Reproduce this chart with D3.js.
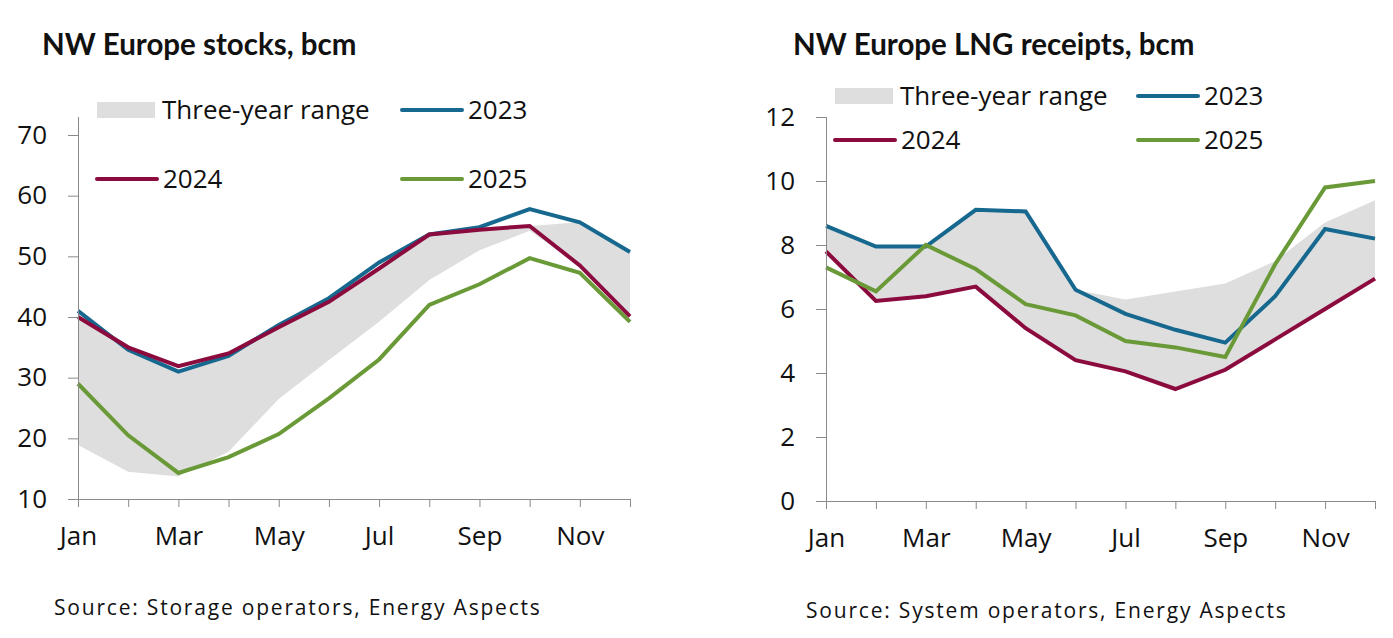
<!DOCTYPE html>
<html><head><meta charset="utf-8">
<script src="https://cdn.jsdelivr.net/npm/d3@7"></script>
<style>
html,body{margin:0;padding:0;background:#fff;}
text{font-family:"Open Sans",sans-serif;fill:#111;}
.title{font-family:Lato,sans-serif;font-weight:700;}
</style></head><body>
<svg id="c" width="1393" height="638"></svg>
<script>
const months = ["Jan","Feb","Mar","Apr","May","Jun","Jul","Aug","Sep","Oct","Nov","Dec"];
const monthLabels = ["Jan","Mar","May","Jul","Sep","Nov"];

// NW Europe stocks, bcm
const stocks2023 = [41, 34.6, 31, 33.6, 38.7, 43.1, 49, 53.6, 54.8, 57.8, 55.6, 50.7];
const stocks2024 = [40, 35, 31.9, 34, 38.3, 42.5, 48, 53.6, 54.4, 55, 48.5, 40.1];
const stocks2025 = [29, 20.5, 14.3, 16.9, 20.7, 26.6, 33, 42, 45.4, 49.7, 47.3, 39.2];
const stocksRangeLow  = [18.9, 14.5, 13.7, 17.8, 26.5, 32.9, 39.2, 46.1, 51, 54.2, 48.5, 40.1];
const stocksRangeHigh = [40, 34.6, 31, 33.6, 38.3, 42.5, 48, 53.6, 54.4, 55, 55.6, 50.7];
const stocksTicks = [10, 20, 30, 40, 50, 60, 70];

// NW Europe LNG receipts, bcm
const lng2023 = [8.6, 7.95, 7.95, 9.1, 9.05, 6.6, 5.85, 5.35, 4.95, 6.4, 8.5, 8.2];
const lng2024 = [7.8, 6.25, 6.4, 6.7, 5.4, 4.4, 4.05, 3.5, 4.1, 5.05, 6.0, 6.95];
const lng2025 = [7.3, 6.55, 8.0, 7.25, 6.15, 5.8, 5.0, 4.8, 4.5, 7.4, 9.8, 10.0];
const lngRangeLow  = [7.8, 6.25, 6.4, 6.7, 5.4, 4.4, 4.05, 3.5, 4.1, 5.05, 6.0, 6.95];
const lngRangeHigh = [8.6, 7.95, 7.95, 9.1, 9.05, 6.6, 6.3, 6.55, 6.8, 7.5, 8.7, 9.4];
const lngTicks = [0, 2, 4, 6, 8, 10, 12];

const colors = {range:"#dedede", y2023:"#17688f", y2024:"#8c0b3e", y2025:"#6a9a38"};
const seriesNames = ["Three-year range","2023","2024","2025"];

const svg = d3.select("#c");

function drawChart(cfg){
  const g = svg.append("g");
  const x = d3.scalePoint().domain(months).range([cfg.x0, cfg.x1]);
  const y = d3.scaleLinear().domain(cfg.domain).range([cfg.yb, cfg.yt]);

  g.append("text").attr("class","title").attr("x",cfg.titleX).attr("y",55)
    .style("font-size","29.5px").text(cfg.title);

  // band
  const area = d3.area().x((d,i)=>x(months[i])).y0(d=>y(d[0])).y1(d=>y(d[1]));
  g.append("path").datum(cfg.low.map((v,i)=>[v,cfg.high[i]]))
    .attr("d",area).attr("fill",colors.range);

  const line = d3.line().x((d,i)=>x(months[i])).y(d=>y(d));
  [[cfg.s2023,colors.y2023],[cfg.s2024,colors.y2024],[cfg.s2025,colors.y2025]].forEach(([s,c])=>{
    g.append("path").datum(s).attr("d",line).attr("fill","none")
      .attr("stroke",c).attr("stroke-width",4).attr("stroke-linejoin","miter");
  });

  // y axis
  const ya = g.append("g").attr("transform",`translate(${cfg.x0},0)`)
    .call(d3.axisLeft(y).tickValues(cfg.ticks).tickSize(10).tickPadding(21).tickSizeOuter(0));
  ya.select(".domain").attr("stroke","#8a8a8a").attr("d",`M0.5,${cfg.axisTop}V${cfg.yb}`);
  ya.selectAll(".tick line").attr("stroke","#8a8a8a");
  ya.selectAll("text").style("font-size","26px").attr("fill","#111").style("font-family","'Open Sans',sans-serif");

  // x axis
  const xa = g.append("g").attr("transform",`translate(0,${cfg.yb})`)
    .call(d3.axisBottom(x).tickSize(8).tickSizeOuter(0).tickPadding(20)
      .tickFormat(d=>monthLabels.includes(d)?d:""));
  xa.select(".domain").attr("stroke","#8a8a8a");
  xa.selectAll(".tick line").attr("stroke","#8a8a8a");
  xa.selectAll("text").style("font-size","26px").attr("fill","#111").style("font-family","'Open Sans',sans-serif");

  // legend
  const L = cfg.legend;
  const lg = g.append("g").style("font-size","26px");
  lg.append("rect").attr("x",L.c1).attr("y",L.r1-8).attr("width",58).attr("height",16).attr("fill",colors.range);
  lg.append("text").attr("x",L.c1+65).attr("y",L.r1+9).text(seriesNames[0]);
  const items = [[L.c2,L.r1,colors.y2023,seriesNames[1]],[L.c1,L.r2,colors.y2024,seriesNames[2]],[L.c2,L.r2,colors.y2025,seriesNames[3]]];
  items.forEach(([cx,cy,c,t])=>{
    lg.append("line").attr("x1",cx).attr("x2",cx+60).attr("y1",cy).attr("y2",cy)
      .attr("stroke",c).attr("stroke-width",4).attr("stroke-linecap","round");
    lg.append("text").attr("x",cx+66).attr("y",cy+9).text(t);
  });

  g.append("text").attr("x",cfg.srcX).attr("y",cfg.srcY).style("font-size","21px")
    .style("letter-spacing","1.8px").attr("fill","#111").text(cfg.source);
}

drawChart({title:"NW Europe stocks, bcm", titleX:42, x0:78, x1:630, yb:499, yt:135, axisTop:117, domain:[10,70],
  ticks:stocksTicks, s2023:stocks2023, s2024:stocks2024, s2025:stocks2025, low:stocksRangeLow, high:stocksRangeHigh,
  legend:{c1:97, c2:402, r1:110, r2:179}, srcX:54, srcY:615, source:"Source: Storage operators, Energy Aspects"});

drawChart({title:"NW Europe LNG receipts, bcm", titleX:793, x0:826, x1:1375, yb:501, yt:117, axisTop:117, domain:[0,12],
  ticks:lngTicks, s2023:lng2023, s2024:lng2024, s2025:lng2025, low:lngRangeLow, high:lngRangeHigh,
  legend:{c1:835, c2:1138, r1:96, r2:140}, srcX:806, srcY:618, source:"Source: System operators, Energy Aspects"});
</script></body></html>
